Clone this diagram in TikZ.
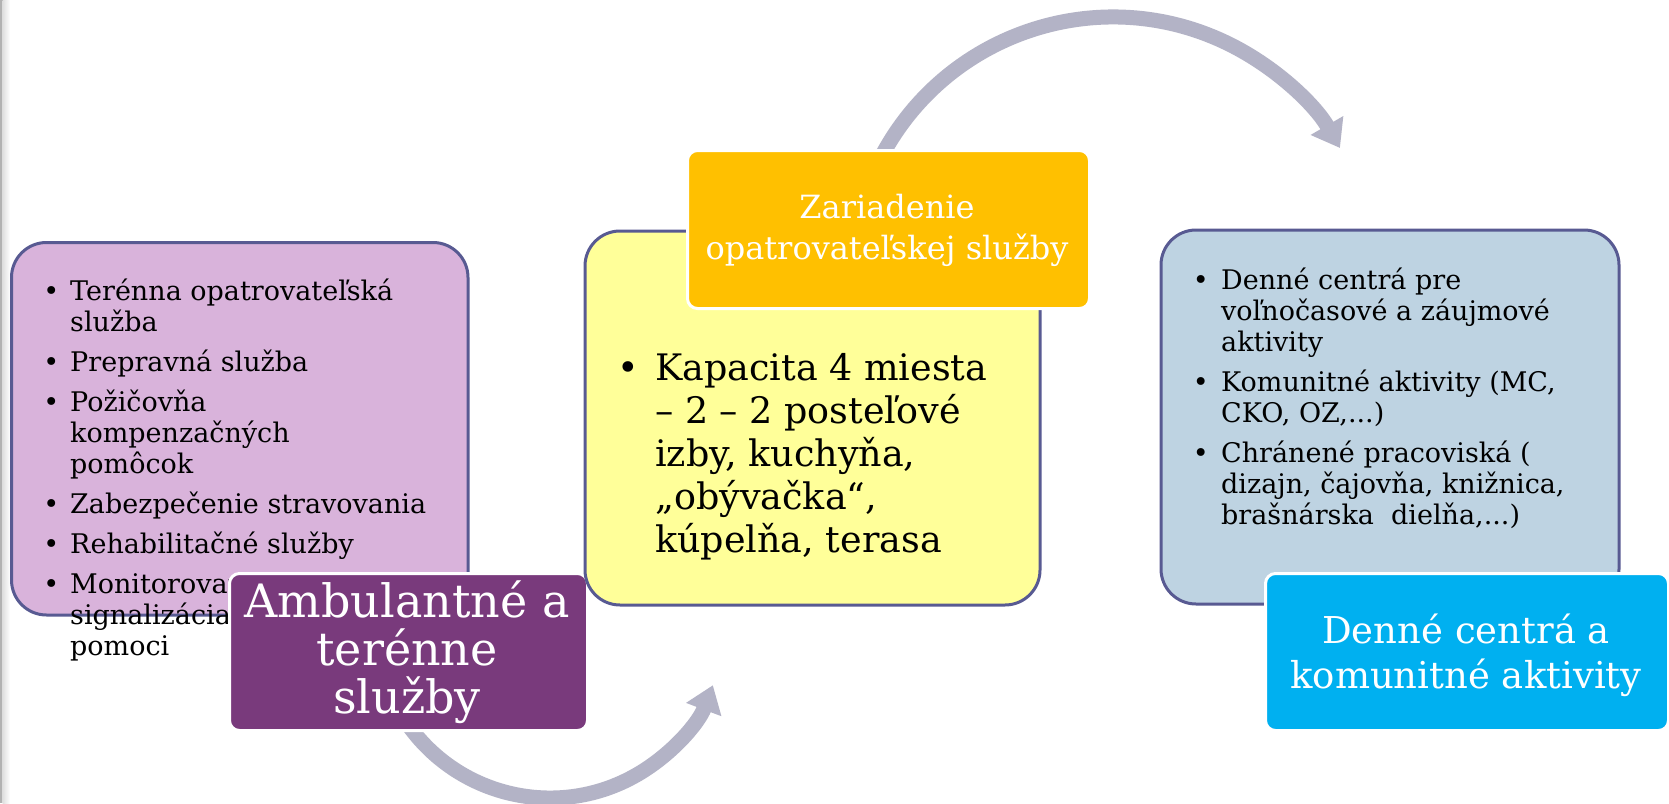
\documentclass[tikz,border=0pt]{standalone}
\usepackage{fontspec}
\setmainfont{DejaVu Serif}
\usetikzlibrary{arrows.meta}
\definecolor{lilac}{HTML}{D9B3DB}
\definecolor{plum}{HTML}{793A7C}
\definecolor{paleyellow}{HTML}{FFFF99}
\definecolor{amber}{HTML}{FFC000}
\definecolor{paleblue}{HTML}{BED3E2}
\definecolor{skyblue}{HTML}{00B0F0}
\definecolor{frame}{HTML}{585A92}
\definecolor{arrowgray}{HTML}{B3B3C6}
\newcommand{\bul}[1]{\llap{\textbullet\hspace{#1}}}
\newcommand{\lstack}[2]{\vtop{\baselineskip=#1\lineskiplimit=-200pt\lineskip=0pt\halign{##\hfil\cr#2\crcr}}}
\newcommand{\cstack}[2]{\vtop{\baselineskip=#1\lineskiplimit=-200pt\lineskip=0pt\halign{\hfil##\hfil\cr#2\crcr}}}
\newcommand{\itemgap}{\noalign{\vskip 9pt}}
\tikzset{
  bigbox/.style={draw=frame, line width=3pt, rounded corners=35pt, anchor=north west, inner sep=0pt},
  titlebox/.style={draw=white, line width=3pt, rounded corners=10pt, anchor=north west, inner sep=0pt},
  listtext/.style={anchor=base west, inner sep=0pt, text=black, font=\fontsize{27}{31}\selectfont},
  titletext/.style={anchor=base, inner sep=0pt, text=white},
  flowarrow/.style={draw=arrowgray, line width=15pt, -{Triangle[width=36pt,length=26pt]}},
}
\begin{document}
\begin{tikzpicture}[x=1pt,y=1pt]
\useasboundingbox (0,0) rectangle (1669,-803);
\fill[white] (0,0) rectangle (1669,-803);
% left page edge
\fill[gray!60] (0,0) rectangle (2.5,-803);
\shade[left color=gray!25, right color=white] (2.5,0) rectangle (10,-803);

% arrows
\coordinate (topstart) at (881.7,-156);
\coordinate (botstart) at (399.3,-711);
\draw[flowarrow] (topstart) arc[start angle=152, end angle=30, radius=262];
\draw[flowarrow] (botstart) arc[start angle=210, end angle=339.4, radius=174];

% left group
\node[bigbox, fill=lilac, minimum width=456.5pt, minimum height=372.5pt] (servbox) at (10,-241) {};
\node[listtext] (servlist) at (70,-300) {\lstack{31pt}{%
\bul{11pt}Terénna opatrovateľská\cr služba\cr\itemgap
\bul{11pt}Prepravná služba\cr\itemgap
\bul{11pt}Požičovňa\cr kompenzačných\cr pomôcok\cr\itemgap
\bul{11pt}Zabezpečenie stravovania\cr\itemgap
\bul{11pt}Rehabilitačné služby\cr\itemgap
\bul{11pt}Monitorovanie a\cr signalizácia potreby\cr pomoci}};
\node[titlebox, fill=plum, minimum width=358pt, minimum height=157pt] (ambbox) at (228,-572) {};
\node[titletext, font=\fontsize{46}{49}\selectfont] (amblabel) at (407,-617) {\cstack{48pt}{Ambulantné a\cr terénne\cr služby}};

% middle group
\node[bigbox, fill=paleyellow, minimum width=455pt, minimum height=374pt] (capbox) at (583.5,-229.5) {};
\node[listtext, font=\fontsize{36.5}{43}\selectfont] (caplist) at (655,-380) {\lstack{43pt}{%
\bul{16pt}Kapacita 4 miesta\cr – 2 – 2 posteľové\cr izby, kuchyňa,\cr „obývačka“,\cr kúpelňa, terasa}};
\node[titlebox, fill=amber, minimum width=402pt, minimum height=158pt] (carebox) at (686,-149) {};
\node[titletext, font=\fontsize{32}{41}\selectfont] (carelabel) at (887,-218) {\cstack{41pt}{Zariadenie\cr opatrovateľskej služby}};

% right group
\node[bigbox, fill=paleblue, minimum width=458pt, minimum height=374pt] (daybox) at (1159.5,-228.5) {};
\node[listtext] (daylist) at (1221,-289.5) {\lstack{31pt}{%
\bul{12.5pt}Denné centrá pre\cr voľnočasové a záujmové\cr aktivity\cr\itemgap
\bul{12.5pt}Komunitné aktivity (MC,\cr CKO, OZ,...)\cr\itemgap
\bul{12.5pt}Chránené pracoviská (\cr dizajn, čajovňa, knižnica,\cr brašnárska\ \ dielňa,...)}};
\node[titlebox, fill=skyblue, minimum width=403pt, minimum height=157pt] (commbox) at (1264,-572) {};
\node[titletext, font=\fontsize{37}{45}\selectfont] (commlabel) at (1466,-643) {\cstack{45pt}{Denné centrá a\cr komunitné aktivity}};
\end{tikzpicture}
\end{document}
